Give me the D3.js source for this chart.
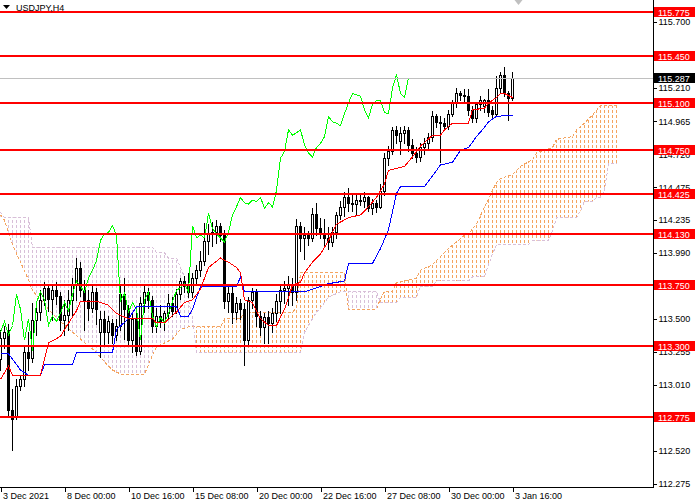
<!DOCTYPE html>
<html>
<head>
<meta charset="utf-8">
<script src="https://cdn.jsdelivr.net/npm/d3@7"></script>
<style>
  html, body { margin: 0; padding: 0; background: #fff; }
  svg { display: block; font-family: "Liberation Sans", Arial, sans-serif; font-size: 9px; }
</style>
</head>
<body>
<svg id="chart" width="700" height="500"></svg>
<script>
// USDJPY H4 candles, bar 0 = 3 Dec 2021 08:00, bar 128 = 3 Jan 16:00
const opens = [113.20,113.36,113.42,112.82,112.78,113.00,113.05,113.25,113.21,113.49,113.55,113.64,113.73,113.65,113.71,113.67,113.49,113.53,113.64,113.75,113.88,113.71,113.64,113.58,113.70,113.40,113.50,113.40,113.47,113.38,113.45,113.68,113.57,113.34,113.50,113.26,113.62,113.70,113.64,113.45,113.52,113.48,113.54,113.62,113.56,113.68,113.78,113.74,113.70,113.80,113.86,113.93,114.08,114.13,114.14,114.19,114.12,113.63,113.69,113.55,113.62,113.57,113.34,113.64,113.70,113.52,113.44,113.51,113.47,113.54,113.63,113.71,113.73,113.76,113.70,114.19,114.10,114.12,114.10,114.28,114.17,114.13,114.10,114.07,114.14,114.27,114.33,114.40,114.36,114.35,114.38,114.37,114.40,114.32,114.36,114.33,114.45,114.69,114.74,114.90,114.82,114.88,114.90,114.79,114.73,114.70,114.77,114.80,114.85,115.00,114.96,114.95,114.93,115.02,115.10,115.17,115.16,115.15,115.05,114.99,115.09,115.08,115.12,115.05,115.02,115.21,115.31,115.17,115.14];
const highs = [113.42,113.45,113.46,112.98,113.05,113.08,113.30,113.40,113.62,113.60,113.71,113.77,113.76,113.75,113.77,113.70,113.64,113.71,113.80,113.95,113.92,113.79,113.71,113.75,113.73,113.56,113.56,113.52,113.50,113.50,113.76,113.80,113.60,113.55,113.58,113.66,113.74,113.73,113.67,113.58,113.60,113.56,113.68,113.66,113.72,113.80,113.82,113.84,113.84,113.90,114.00,114.21,114.20,114.22,114.23,114.21,114.16,113.74,113.75,113.66,113.65,113.62,113.66,113.73,113.72,113.56,113.54,113.56,113.58,113.68,113.75,113.78,113.82,113.80,114.24,114.22,114.18,114.15,114.32,114.36,114.25,114.24,114.18,114.18,114.29,114.37,114.44,114.47,114.42,114.43,114.42,114.44,114.41,114.39,114.38,114.50,114.73,114.78,114.92,114.93,114.92,114.93,114.92,114.83,114.77,114.80,114.84,114.88,115.04,115.02,115.00,114.99,115.05,115.12,115.21,115.19,115.20,115.20,115.08,115.11,115.15,115.13,115.20,115.08,115.30,115.33,115.37,115.19,115.33];
const lows = [113.12,113.28,112.78,112.53,112.76,112.97,113.00,113.12,113.18,113.38,113.49,113.60,113.56,113.49,113.61,113.42,113.38,113.42,113.53,113.64,113.67,113.42,113.49,113.55,113.46,113.22,113.30,113.32,113.32,113.34,113.42,113.35,113.30,113.25,113.23,113.24,113.55,113.58,113.40,113.40,113.44,113.42,113.50,113.52,113.54,113.65,113.70,113.66,113.66,113.76,113.82,113.90,113.98,114.04,114.06,114.08,113.58,113.55,113.47,113.50,113.50,113.16,113.30,113.58,113.45,113.38,113.32,113.32,113.40,113.48,113.54,113.62,113.60,113.60,113.64,114.00,113.94,114.05,114.08,114.12,114.10,114.03,114.02,114.04,114.10,114.24,114.26,114.30,114.30,114.28,114.34,114.33,114.30,114.28,114.29,114.32,114.42,114.64,114.72,114.80,114.72,114.80,114.74,114.69,114.66,114.67,114.72,114.75,114.82,114.92,114.66,114.90,114.91,115.00,115.07,115.12,115.10,115.01,114.96,114.96,115.05,115.03,115.00,114.99,115.00,115.18,115.15,114.97,115.12];
const closes = [113.36,113.40,112.82,112.76,113.00,113.05,113.25,113.21,113.49,113.55,113.64,113.73,113.65,113.71,113.67,113.49,113.53,113.64,113.75,113.88,113.71,113.64,113.58,113.70,113.57,113.50,113.40,113.48,113.38,113.45,113.68,113.57,113.34,113.50,113.26,113.62,113.70,113.64,113.45,113.52,113.48,113.54,113.62,113.56,113.68,113.78,113.74,113.70,113.80,113.86,113.93,114.08,114.13,114.14,114.19,114.12,113.63,113.69,113.55,113.62,113.57,113.34,113.64,113.70,113.52,113.44,113.51,113.47,113.54,113.63,113.71,113.73,113.76,113.70,114.19,114.10,114.12,114.10,114.28,114.17,114.13,114.10,114.07,114.14,114.27,114.33,114.40,114.36,114.35,114.38,114.37,114.40,114.32,114.36,114.33,114.45,114.69,114.74,114.90,114.86,114.88,114.90,114.79,114.73,114.70,114.77,114.80,114.85,115.00,114.96,114.95,114.93,115.02,115.10,115.17,115.16,115.15,115.05,114.99,115.09,115.12,115.12,115.03,115.02,115.21,115.31,115.17,115.14,115.287];

// Ichimoku lines as [bar, price] points
const tenkan = [[0,113.05],[2,113.15],[3,113.08],[10,113.08],[11,113.20],[12,113.32],[15,113.37],[16,113.42],[19,113.56],[20,113.63],[24,113.63],[27,113.60],[29,113.54],[32,113.50],[38,113.50],[39,113.47],[41,113.47],[44,113.55],[46,113.62],[48,113.64],[50,113.72],[52,113.88],[55,113.95],[57,113.92],[59,113.88],[60,113.84],[61,113.64],[63,113.62],[65,113.50],[67,113.45],[69,113.45],[71,113.57],[73,113.75],[75,113.77],[76,113.84],[78,113.92],[80,113.98],[82,114.08],[84,114.20],[87,114.25],[90,114.27],[92,114.33],[94,114.40],[96,114.50],[97,114.60],[101,114.63],[103,114.70],[105,114.78],[108,114.86],[110,114.86],[111,114.90],[113,114.95],[117,114.95],[118,115.05],[121,115.06],[122,115.10],[124,115.14],[125,115.17],[126,115.17],[128,115.14]];
const kijun = [[0,113.24],[2,113.24],[5,113.12],[7,113.08],[10,113.08],[11,113.16],[18,113.16],[19,113.25],[28,113.25],[29,113.42],[32,113.50],[34,113.59],[44,113.59],[45,113.52],[47,113.52],[48,113.57],[50,113.74],[59,113.74],[60,113.81],[61,113.70],[76,113.70],[82,113.76],[86,113.78],[87,113.91],[93,113.91],[95,114.02],[97,114.16],[99,114.43],[100,114.48],[106,114.48],[110,114.64],[113,114.66],[115,114.75],[117,114.77],[119,114.85],[121,114.92],[122,114.96],[124,115.00],[128,115.01]];
const spanA = [[0,114.27],[1,114.23],[3,114.05],[5,113.92],[7,113.79],[8,113.71],[10,113.64],[12,113.57],[15,113.48],[18,113.40],[20,113.35],[22,113.30],[24,113.25],[26,113.18],[28,113.12],[30,113.09],[36,113.09],[37,113.16],[38,113.23],[39,113.29],[41,113.32],[43,113.35],[45,113.42],[47,113.44],[55,113.44],[56,113.50],[60,113.50],[61,113.55],[73,113.55],[74,113.58],[75,113.84],[86,113.84],[87,113.57],[94,113.57],[95,113.65],[96,113.70],[98,113.70],[99,113.77],[104,113.80],[105,113.86],[108,113.90],[110,113.96],[112,114.02],[114,114.07],[116,114.12],[117,114.13],[119,114.20],[121,114.33],[123,114.45],[124,114.51],[125,114.54],[128,114.57],[130,114.63],[133,114.68],[134,114.73],[138,114.77],[139,114.83],[143,114.85],[144,114.90],[146,114.95],[148,115.01],[150,115.08],[154,115.08]];
const spanB = [[0,114.29],[1,114.25],[7,114.25],[8,114.03],[38,114.03],[39,113.99],[41,113.99],[42,113.95],[44,113.95],[45,113.88],[46,113.81],[47,113.64],[48,113.50],[49,113.25],[75,113.25],[76,113.40],[77,113.45],[78,113.50],[79,113.55],[80,113.58],[81,113.62],[82,113.66],[85,113.70],[94,113.70],[95,113.62],[99,113.62],[100,113.66],[104,113.66],[105,113.74],[108,113.74],[109,113.78],[117,113.78],[118,113.81],[121,113.81],[122,113.90],[123,113.98],[124,114.05],[132,114.05],[133,114.08],[137,114.08],[138,114.15],[139,114.25],[144,114.25],[145,114.30],[146,114.37],[148,114.37],[149,114.40],[150,114.40],[151,114.45],[152,114.65],[154,114.65]];
const chikouShift = 26;

// horizontal levels drawn on the chart
const levels = [115.775, 115.450, 115.100, 114.750, 114.425, 114.130, 113.750, 113.300, 112.775];
const lastPrice = 115.287;

// scale labels that are visible (115.455, 113.745, 112.765 sit fully under level tags)
const priceTicks = [115.700, 115.210, 114.965, 114.720, 114.475, 114.235, 113.990, 113.500, 113.255, 113.010, 112.520, 112.275];
const dateBars = [0, 16, 32, 48, 64, 80, 96, 112, 128];
const dateLabels = ['3 Dec 2021', '8 Dec 00:00', '10 Dec 16:00', '15 Dec 08:00', '20 Dec 00:00', '22 Dec 16:00', '27 Dec 08:00', '30 Dec 00:00', '3 Jan 16:00'];

const svg = d3.select('#chart');
const plotRight = 653;
const plotBottom = 487;

const x = d3.scaleLinear().domain([0, 154]).range([0.5, 616.5]);
const y = d3.scaleLinear().domain([112.275, 115.700]).range([484, 22]);

const ORANGE = '#F4A460';
const THISTLE = '#D8BFD8';

// ---- Kumo: dotted columns clipped between span A and span B ----
const defs = svg.append('defs');
[['patA', ORANGE], ['patB', THISTLE]].forEach(([id, col]) => {
  const p = defs.append('pattern')
    .attr('id', id)
    .attr('patternUnits', 'userSpaceOnUse')
    .attr('width', 4).attr('height', 5);
  p.append('rect').attr('x', 0).attr('y', 0).attr('width', 1).attr('height', 3).attr('fill', col);
});

// widen the first/last bar a little so the end columns are not cut in half
const xc = d => x(d[0]) + (d[0] === 0 ? -2 : d[0] === 154 ? 2 : 0);
const below = d3.area().x(xc).y0(d => y(d[1])).y1(plotBottom);
const above = d3.area().x(xc).y0(0).y1(d => y(d[1]));

function addClip(id, path) {
  defs.append('clipPath').attr('id', id).append('path').attr('d', path);
}
addClip('belowA', below(spanA));
addClip('aboveA', above(spanA));
addClip('belowB', below(spanB));
addClip('aboveB', above(spanB));

// A above B -> sandy brown, B above A -> thistle
svg.append('g').attr('clip-path', 'url(#belowA)')
  .append('rect').attr('clip-path', 'url(#aboveB)')
  .attr('x', 0).attr('y', 0).attr('width', 620).attr('height', plotBottom)
  .attr('fill', 'url(#patA)');
svg.append('g').attr('clip-path', 'url(#belowB)')
  .append('rect').attr('clip-path', 'url(#aboveA)')
  .attr('x', 0).attr('y', 0).attr('width', 620).attr('height', plotBottom)
  .attr('fill', 'url(#patB)');

const line = d3.line().x(d => x(d[0])).y(d => y(d[1]));

svg.append('path').attr('d', line(spanA))
  .attr('fill', 'none').attr('stroke', ORANGE).attr('stroke-dasharray', '3,2')
  .attr('shape-rendering', 'crispEdges');
svg.append('path').attr('d', line(spanB))
  .attr('fill', 'none').attr('stroke', THISTLE).attr('stroke-dasharray', '3,2')
  .attr('shape-rendering', 'crispEdges');

// ---- candles ----
const bars = d3.range(opens.length);
const candles = svg.append('g');

candles.selectAll('line.wick')
  .data(bars)
  .join('line')
  .attr('class', 'wick')
  .attr('x1', i => x(i)).attr('x2', i => x(i))
  .attr('y1', i => Math.round(y(highs[i])))
  .attr('y2', i => Math.round(y(lows[i])) + 1)
  .attr('stroke', '#000')
  .attr('shape-rendering', 'crispEdges');

candles.selectAll('rect.body')
  .data(bars)
  .join('rect')
  .attr('class', 'body')
  .each(function(i) {
    const el = d3.select(this);
    const top = Math.round(y(Math.max(opens[i], closes[i])));
    const bot = Math.round(y(Math.min(opens[i], closes[i])));
    if (closes[i] >= opens[i]) {
      // bull: white body with black outline
      el.attr('x', x(i) - 1).attr('width', 2)
        .attr('y', top + 0.5).attr('height', Math.max(bot - top, 1))
        .attr('fill', '#fff').attr('stroke', '#000');
    } else {
      el.attr('x', x(i) - 1.5).attr('width', 3)
        .attr('y', top).attr('height', Math.max(bot - top + 1, 1))
        .attr('fill', '#000');
    }
  })
  .attr('shape-rendering', 'crispEdges');

// ---- Tenkan, Kijun, Chikou ----
const chikou = closes.slice(chikouShift).map((v, i) => [i, v]);

svg.append('path').attr('d', line(chikou))
  .attr('fill', 'none').attr('stroke', '#00FF00').attr('shape-rendering', 'crispEdges');
svg.append('path').attr('d', line(kijun))
  .attr('fill', 'none').attr('stroke', '#0000FF').attr('shape-rendering', 'crispEdges');
svg.append('path').attr('d', line(tenkan))
  .attr('fill', 'none').attr('stroke', '#FF0000').attr('shape-rendering', 'crispEdges');

// ---- bid line ----
svg.append('line')
  .attr('x1', 0).attr('x2', plotRight)
  .attr('y1', Math.round(y(lastPrice)) + 0.5).attr('y2', Math.round(y(lastPrice)) + 0.5)
  .attr('stroke', '#C0C0C0');

// ---- horizontal levels ----
svg.append('g').selectAll('line')
  .data(levels)
  .join('line')
  .attr('x1', 0).attr('x2', plotRight)
  .attr('y1', d => Math.round(y(d))).attr('y2', d => Math.round(y(d)))
  .attr('stroke', '#FF0000').attr('stroke-width', 2)
  .attr('shape-rendering', 'crispEdges');

// ---- axes ----
const yAxis = svg.append('g')
  .attr('transform', `translate(${plotRight + 0.5},0)`)
  .call(d3.axisRight(y).tickValues(priceTicks).tickFormat(d3.format('.3f')).tickSize(3).tickPadding(2));
yAxis.select('.domain').remove();
yAxis.attr('font-family', null).attr('font-size', null);
yAxis.selectAll('line').attr('stroke', '#000').attr('shape-rendering', 'crispEdges');
yAxis.selectAll('text').attr('fill', '#000');

const xAxis = svg.append('g')
  .attr('transform', `translate(0,${plotBottom + 0.5})`)
  .call(d3.axisBottom(x).tickValues(dateBars).tickFormat((d, i) => dateLabels[i]).tickSize(4).tickPadding(1));
xAxis.select('.domain').remove();
xAxis.attr('font-family', null).attr('font-size', null);
xAxis.selectAll('line').attr('stroke', '#000').attr('shape-rendering', 'crispEdges');
xAxis.selectAll('text').attr('fill', '#000').attr('text-anchor', 'start').attr('x', 2);

svg.append('line')
  .attr('x1', plotRight + 0.5).attr('x2', plotRight + 0.5).attr('y1', 0).attr('y2', plotBottom + 1)
  .attr('stroke', '#000');
svg.append('line')
  .attr('x1', 0).attr('x2', plotRight + 1).attr('y1', plotBottom + 0.5).attr('y2', plotBottom + 0.5)
  .attr('stroke', '#000');

// ---- price labels on the right scale ----
const tags = svg.append('g');
function tag(v, bg) {
  const yy = Math.round(y(v));
  tags.append('rect')
    .attr('x', plotRight + 1).attr('y', yy - 5).attr('width', 41).attr('height', 10)
    .attr('fill', bg);
  tags.append('text')
    .attr('x', plotRight + 5).attr('y', yy + 3.5)
    .attr('fill', '#fff')
    .text(d3.format('.3f')(v));
}
levels.forEach(v => tag(v, '#FF0000'));
tag(lastPrice, '#000');

// ---- title and chart-shift marker ----
svg.append('path')
  .attr('d', d3.line()([[3, 5], [10, 5], [6.5, 9]]) + 'Z')
  .attr('fill', '#000');
svg.append('text')
  .attr('x', 16).attr('y', 11)
  .attr('fill', '#000')
  .text('USDJPY,H4');

const shiftX = x(128) + 6;
svg.append('path')
  .attr('d', d3.line()([[shiftX - 4, 0], [shiftX + 4, 0], [shiftX, 5]]) + 'Z')
  .attr('fill', '#C0C0C0');
</script>
</body>
</html>
